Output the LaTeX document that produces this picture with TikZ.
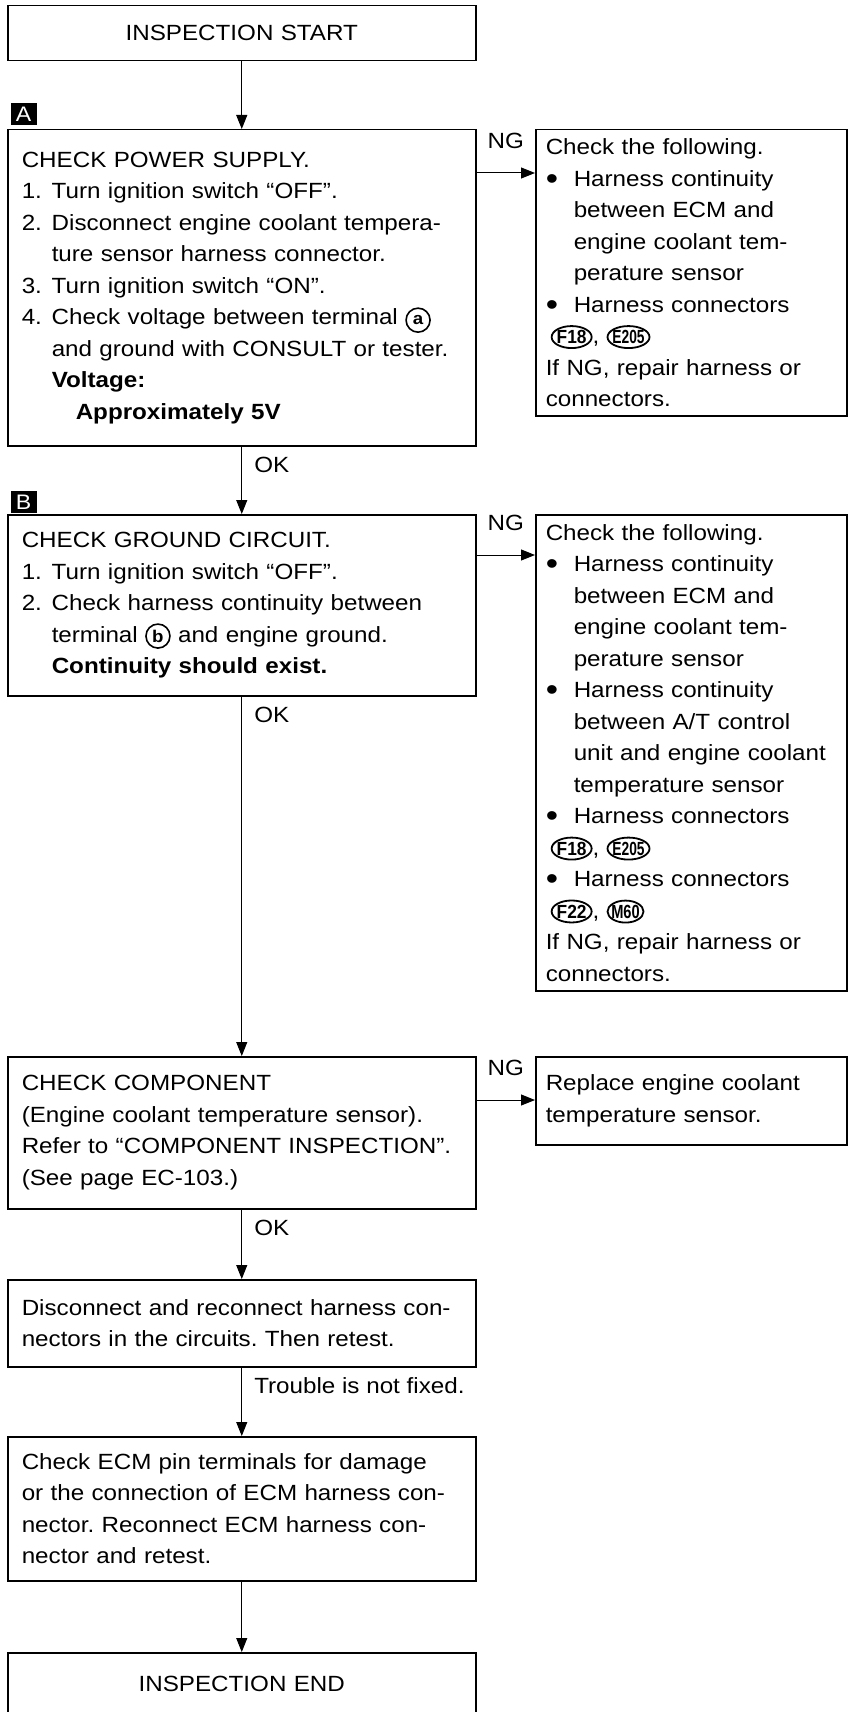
\documentclass[tikz,border=0pt]{standalone}
\usepackage{fontspec}
\setmainfont{Liberation Sans}[FakeStretch=1.1]
\usetikzlibrary{shapes,arrows.meta,positioning}
\frenchspacing

% list helpers
\newcommand{\itm}[1]{\makebox[30pt][l]{#1}}
\newcommand{\hang}{\hspace*{30pt}}
\newcommand{\bul}{\makebox[28pt][l]{\raisebox{-3pt}{\scalebox{1.45}{\textbullet}}}}
\newcommand{\ind}{\hspace*{28pt}}

% inline terminal and connector marks
\tikzset{inl/.style={text width={}, minimum width=0pt, minimum height=0pt, anchor=center, inner sep=0pt}}
\newcommand{\term}[1]{\tikz[baseline=(tm.base)]\node[inl, circle, draw, line width=1.6pt, minimum size=24pt, font=\bfseries\fontsize{17}{17}\selectfont] (tm) {#1};}
\newcommand{\conn}[3]{\tikz[baseline=(cn.base)]{\node[inl, font=\bfseries\fontsize{19}{19}\selectfont] (cn) {\scalebox{#2}[1]{#1}}; \draw[line width=1.8pt] (cn.center) ellipse (#3 and 11pt);}}

\begin{document}
\begin{tikzpicture}[x=1pt, y=-1pt,
    box/.style={draw, line width=1.5pt, anchor=north west, align=left, inner ysep=0pt, font=\fontsize{22}{31.5}\selectfont},
    lbox/.style={box, inner xsep=14pt, text width=440pt},
    rbox/.style={box, inner xsep=10pt, text width=291pt},
    tag/.style={fill=black, text=white, minimum width=26pt, minimum height=22pt, inner sep=0pt, font=\fontsize{21}{21}\selectfont},
    lbl/.style={inner sep=2pt, font=\fontsize{22}{22}\selectfont},
    arr/.style={line width=1pt, -{Triangle[width=11pt,length=14pt]}}]
    \useasboundingbox (0,0) rectangle (849,1712);
    \clip (0,0) rectangle (849,1712);

    % Main column
    \node[lbox, align=center, minimum height=55pt] (start) at (7,5) {INSPECTION START};

    \node[tag] (tagA) at (23.5,114) {A};
    \node[lbox, minimum height=316pt] (chkA) at (7,129) {CHECK POWER SUPPLY.\\
      \itm{1.}Turn ignition switch “OFF”.\\
      \itm{2.}Disconnect engine coolant tempera-\\
      \hang ture sensor harness connector.\\
      \itm{3.}Turn ignition switch “ON”.\\
      \itm{4.}Check voltage between terminal \term{a}\\
      \hang and ground with CONSULT or tester.\\
      \hang\textbf{Voltage:}\\
      \hspace*{54pt}\textbf{Approximately 5V}};

    \node[tag] (tagB) at (23.5,502) {B};
    \node[lbox, minimum height=181pt] (chkB) at (7,514) {CHECK GROUND CIRCUIT.\\
      \itm{1.}Turn ignition switch “OFF”.\\
      \itm{2.}Check harness continuity between\\
      \hang terminal \term{b} and engine ground.\\
      \hang\textbf{Continuity should exist.}};

    \node[lbox, minimum height=152pt] (comp) at (7,1056) {CHECK COMPONENT\\
      (Engine coolant temperature sensor).\\
      Refer to “COMPONENT INSPECTION”.\\
      (See page EC-103.)};

    \node[lbox, minimum height=87pt] (disc) at (7,1279) {Disconnect and reconnect harness con-\\
      nectors in the circuits. Then retest.};

    \node[lbox, minimum height=144pt] (ecm) at (7,1436) {Check ECM pin terminals for damage\\
      or the connection of ECM harness con-\\
      nector. Reconnect ECM harness con-\\
      nector and retest.};

    \node[lbox, align=center, minimum height=62pt] (fin) at (7,1652) {INSPECTION END};

    % NG side boxes
    \node[rbox, minimum height=286pt] (ngA) at (535,129) {Check the following.\\
      \bul Harness continuity\\
      \ind between ECM and\\
      \ind engine coolant tem-\\
      \ind perature sensor\\
      \bul Harness connectors\\
      \hspace*{5pt}\conn{F18}{0.83}{20pt}, \conn{E205}{0.66}{21pt}\\
      If NG, repair harness or\\
      connectors.};

    \node[rbox, minimum height=476pt] (ngB) at (535,514) {Check the following.\\
      \bul Harness continuity\\
      \ind between ECM and\\
      \ind engine coolant tem-\\
      \ind perature sensor\\
      \bul Harness continuity\\
      \ind between A/T control\\
      \ind unit and engine coolant\\
      \ind temperature sensor\\
      \bul Harness connectors\\
      \hspace*{5pt}\conn{F18}{0.83}{20pt}, \conn{E205}{0.66}{21pt}\\
      \bul Harness connectors\\
      \hspace*{5pt}\conn{F22}{0.83}{20pt}, \conn{M60}{0.7}{18pt}\\
      If NG, repair harness or\\
      connectors.};

    \node[rbox, minimum height=88pt] (repl) at (535,1056) {Replace engine coolant\\
      temperature sensor.};

    % Connectors
    \draw[arr] (start) -- (chkA);
    \draw[arr] (chkA) -- (chkB) node[lbl, pos=0, anchor=north west, xshift=10pt, yshift=-8pt] {OK};
    \draw[arr] (chkB) -- (comp) node[lbl, pos=0, anchor=north west, xshift=10pt, yshift=-8pt] {OK};
    \draw[arr] (comp) -- (disc) node[lbl, pos=0, anchor=north west, xshift=10pt, yshift=-8pt] {OK};
    \draw[arr] (disc) -- (ecm) node[lbl, pos=0, anchor=north west, xshift=10pt, yshift=-8pt] {Trouble is not fixed.};
    \draw[arr] (ecm) -- (fin);

    \draw[arr] ([yshift=-44pt]chkA.north east) -- ([yshift=-44pt]ngA.north west) node[lbl, midway, above=22pt] {NG};
    \draw[arr] ([yshift=-41pt]chkB.north east) -- ([yshift=-41pt]ngB.north west) node[lbl, midway, above=22pt] {NG};
    \draw[arr] ([yshift=-44pt]comp.north east) -- ([yshift=-44pt]repl.north west) node[lbl, midway, above=22pt] {NG};
\end{tikzpicture}
\end{document}
